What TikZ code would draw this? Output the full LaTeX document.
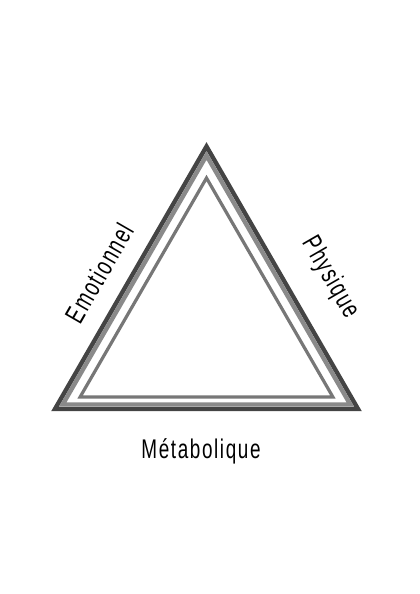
\documentclass[tikz,border=0pt]{standalone}
\usepackage{fontspec}
\newfontfamily\schmal[FakeStretch=0.7,LetterSpace=6]{Liberation Sans}
\usetikzlibrary{positioning, calc}
\definecolor{dunkel}{HTML}{444444}
\definecolor{mittel}{HTML}{8A8A8A}
\definecolor{innen}{HTML}{777777}
\tikzset{
    kante/.style={
        line join=miter,     % Spitze Ecken
        miter limit=10
    },
    beschriftung/.style={
        font=\schmal\fontsize{27}{27}\selectfont,
        text=black,
        inner sep=0pt
    }
}

\begin{document}
\begin{tikzpicture}[x=1pt, y=-1pt]

    % Bildrahmen wie im Original
    \useasboundingbox (0,0) rectangle (420,594);

    % Ecken der drei Dreiecke
    \coordinate (A1) at (55,409);
    \coordinate (B1) at (206.5,146.5);
    \coordinate (C1) at (358,409);

    \coordinate (A2) at (62.7,404.5);
    \coordinate (B2) at (206.5,155.5);
    \coordinate (C2) at (350.3,404.5);

    \coordinate (A3) at (80.1,397);
    \coordinate (B3) at (206.5,178);
    \coordinate (C3) at (332.9,397);

    % Aeusseres dunkles Dreieck
    \draw[kante, draw=dunkel, line width=4.4] (A1) -- (B1) -- (C1) -- cycle;

    % Mittleres graues Dreieck
    \draw[kante, draw=mittel, line width=4.4] (A2) -- (B2) -- (C2) -- cycle;

    % Inneres Dreieck
    \draw[kante, draw=innen, line width=3.2] (A3) -- (B3) -- (C3) -- cycle;

    % Beschriftungen der Seiten
    \node[beschriftung, rotate=60] (emo) at (99,273) {Emotionnel};
    \node[beschriftung, rotate=-60] (phy) at (330,278) {Physique};
    \node[beschriftung] (meta) at (201,451) {Métabolique};

\end{tikzpicture}
\end{document}
